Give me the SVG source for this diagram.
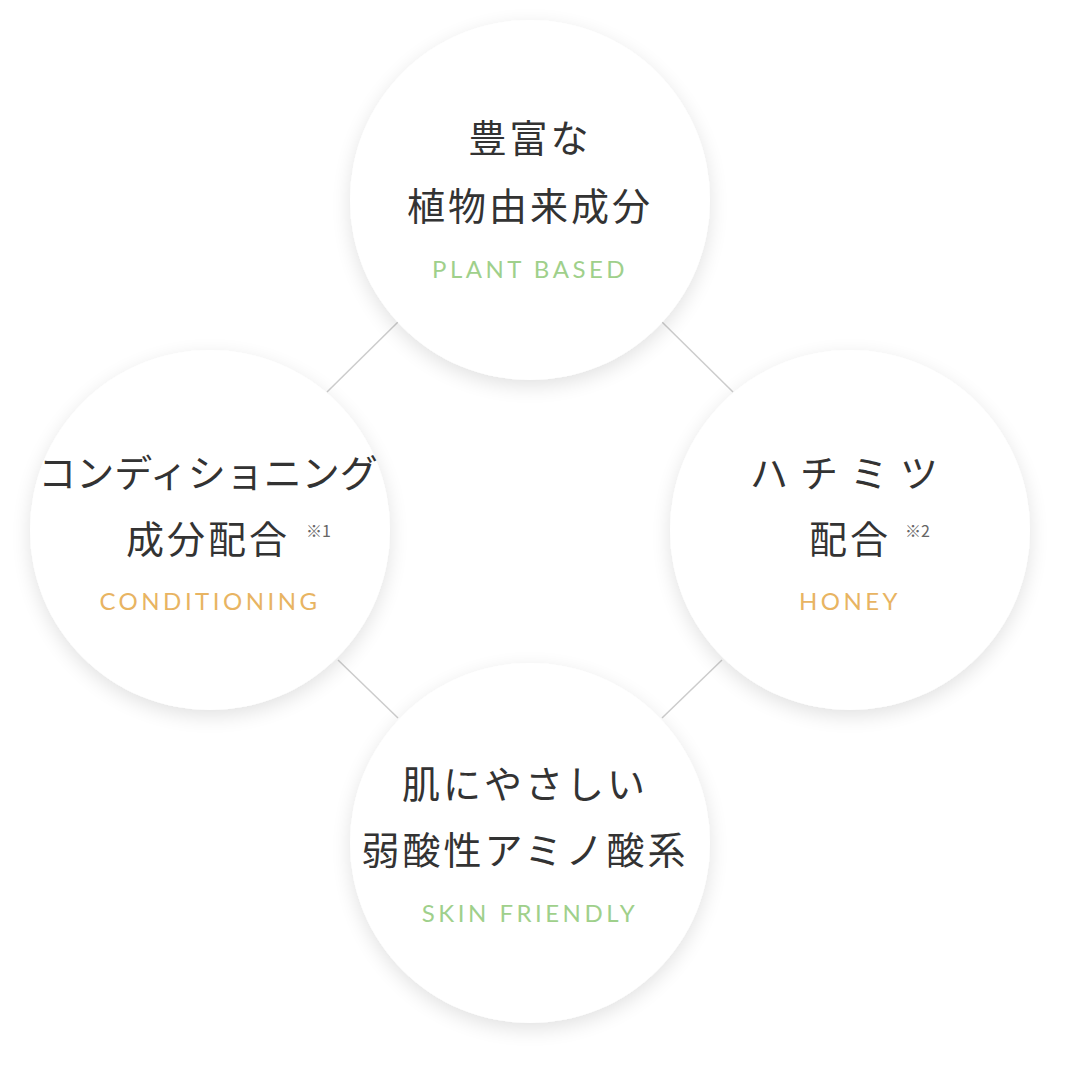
<svg xmlns="http://www.w3.org/2000/svg" width="1088" height="1092" viewBox="0 0 1088 1092">
<style>
.jp{font-family:"Liberation Serif","Noto Sans CJK JP",serif;font-size:38px;fill:#333;text-anchor:middle;letter-spacing:3px}
.en{font-family:"Lato","Liberation Sans",sans-serif;font-size:24px;text-anchor:middle;letter-spacing:3.5px}
.g{fill:#9fd08b}.o{fill:#e8b462}
.n{font-family:"Noto Sans CJK JP",sans-serif;font-size:16px;fill:#666}
.c{fill:#fff;filter:url(#sh)}
</style>
<defs><filter id="sh" x="-30%" y="-30%" width="160%" height="160%"><feGaussianBlur in="SourceAlpha" stdDeviation="10"/><feOffset dy="6"/><feComponentTransfer><feFuncA type="linear" slope="0.12"/></feComponentTransfer><feMerge><feMergeNode/><feMergeNode in="SourceGraphic"/></feMerge></filter></defs>
<rect width="1088" height="1092" fill="#fff"/>
<g id="connectors" stroke="#ccc" stroke-width="1.5">
<line x1="398" y1="322" x2="327" y2="392"/><line x1="662" y1="322" x2="733" y2="392"/>
<line x1="338" y1="660" x2="398" y2="718"/><line x1="722" y1="660" x2="662" y2="718"/>
</g>
<g id="top"><circle class="c" cx="530" cy="200" r="180"/>
<text class="jp" x="530" y="152">豊富な</text><text class="jp" x="530" y="220">植物由来成分</text><text class="en g" x="530" y="278">PLANT BASED</text></g>
<g id="left"><circle class="c" cx="210" cy="530" r="180"/>
<text class="jp" x="208" y="487" style="letter-spacing:0">コンディショニング</text><text class="jp" x="208" y="553">成分配合</text><text class="n" x="306" y="537">※1</text><text class="en o" x="210" y="610">CONDITIONING</text></g>
<g id="right"><circle class="c" cx="850" cy="530" r="180"/>
<text class="jp" x="850" y="487" style="letter-spacing:12px">ハチミツ</text><text class="jp" x="850" y="553">配合</text><text class="n" x="905" y="537">※2</text><text class="en o" x="850" y="610">HONEY</text></g>
<g id="bottom"><circle class="c" cx="530" cy="843" r="180"/>
<text class="jp" x="525" y="798">肌にやさしい</text><text class="jp" x="525" y="864">弱酸性アミノ酸系</text><text class="en g" x="530" y="922">SKIN FRIENDLY</text></g>
</svg>
